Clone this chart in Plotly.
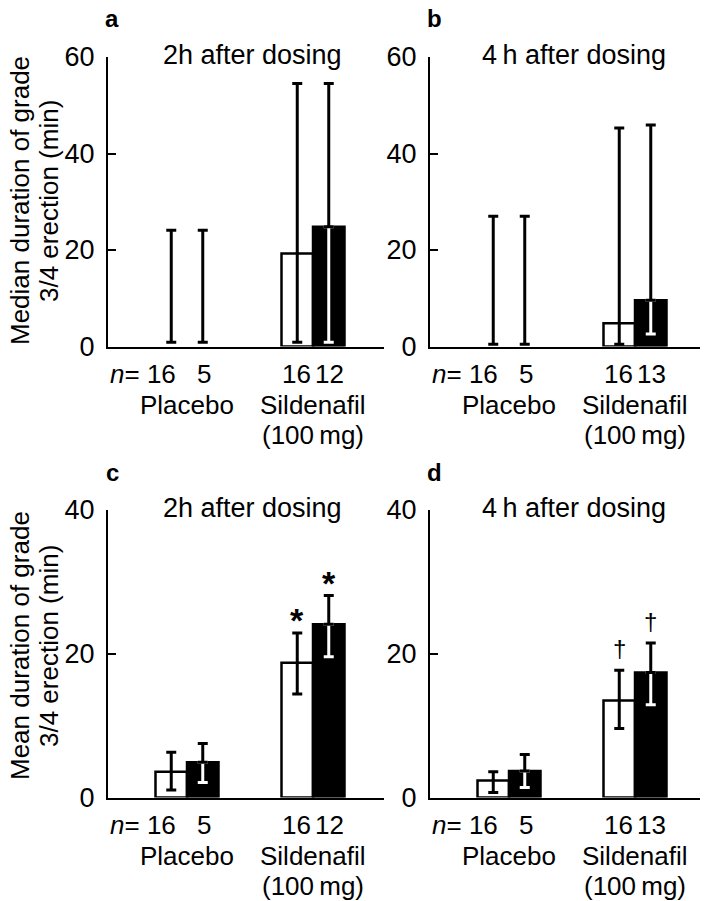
import plotly.graph_objects as go

W, H = 708, 901
OFF = 8                      # page body margin of the html page
WF, HF = W - OFF, H - OFF    # figure size so the picture fills the window
FONT = "Liberation Sans, Arial, Helvetica, sans-serif"

# ---------------- data ----------------
groups = [1, 2]                       # Placebo, Sildenafil
group_names = ["Placebo", "Sildenafil"]
group_sub = ["", "(100\u2009mg)"]
panel_letters = ["a", "b", "c", "d"]
panel_titles = ["2h after dosing", "4\u2009h after dosing", "2h after dosing", "4\u2009h after dosing"]

# open bars (first n) and filled bars (second n)
n_open = [[16, 16], [16, 16], [16, 16], [16, 16]]
n_filled = [[5, 12], [5, 13], [5, 12], [5, 13]]

# (a) median, 2 h
a_open, a_open_lo, a_open_hi = [0, 19.3], [0.9, 0.9], [24.1, 54.5]
a_fill, a_fill_lo, a_fill_hi = [0, 24.8], [0.9, 0.9], [24.1, 54.5]
# (b) median, 4 h
b_open, b_open_lo, b_open_hi = [0, 4.8], [0.45, 0.45], [27.0, 45.3]
b_fill, b_fill_lo, b_fill_hi = [0, 9.6], [0.45, 2.6], [27.0, 45.9]
# (c) mean, 2 h
c_open, c_open_lo, c_open_hi = [3.6, 18.75], [1.05, 14.4], [6.3, 22.9]
c_fill, c_fill_lo, c_fill_hi = [4.9, 24.1], [2.1, 19.6], [7.5, 28.1]
# (d) mean, 4 h
d_open, d_open_lo, d_open_hi = [2.35, 13.5], [0.7, 9.6], [3.6, 17.7]
d_fill, d_fill_lo, d_fill_hi = [3.7, 17.4], [1.4, 12.9], [6.0, 21.5]

# significance marks (open, filled) per group
c_marks = [["", ""], ["*", "*"]]
d_marks = [["", ""], ["\u2020", "\u2020"]]

y_max = [60, 60, 40, 40]
y_ticks = [[0, 20, 40, 60], [0, 20, 40, 60], [0, 20, 40], [0, 20, 40]]

panels = [
    (a_open, a_open_lo, a_open_hi, a_fill, a_fill_lo, a_fill_hi, None),
    (b_open, b_open_lo, b_open_hi, b_fill, b_fill_lo, b_fill_hi, None),
    (c_open, c_open_lo, c_open_hi, c_fill, c_fill_lo, c_fill_hi, c_marks),
    (d_open, d_open_lo, d_open_hi, d_fill, d_fill_lo, d_fill_hi, d_marks),
]

# ---------------- layout geometry (window pixels) ----------------
BAR_W = 0.25
x_dom_px = [(108, 384), (430, 708)]
y_dom_px = [(57, 346.5), (510, 797.5)]
PX_PER_UNIT = 126.0
x_left = 0.373
FS = 26


def px_x(p):
    return min(1.0, (p - OFF) / WF)


def px_y(p):
    return 1 - (p - OFF) / HF


fig = go.Figure()
layout = dict(
    template="none",
    width=WF, height=HF, margin=dict(l=0, r=0, t=0, b=0, autoexpand=False),
    plot_bgcolor="white", paper_bgcolor="white", showlegend=False,
    font=dict(family=FONT, size=FS, color="black"),
    barmode="overlay",
)
annotations = []

for k, (o, olo, ohi, f, flo, fhi, marks) in enumerate(panels):
    col, row = k % 2, k // 2
    ax = "" if k == 0 else str(k + 1)
    xr, yr = "x" + ax, "y" + ax
    xd = x_dom_px[col]
    yd = y_dom_px[row]
    x_right = x_left + (xd[1] - xd[0]) / PX_PER_UNIT
    layout["xaxis" + ax] = dict(
        domain=[px_x(xd[0]), px_x(xd[1])], anchor=yr, range=[x_left, x_right],
        showline=True, linewidth=2, linecolor="black", ticks="", showticklabels=False,
        showgrid=False, zeroline=False, fixedrange=True, automargin=False)
    layout["yaxis" + ax] = dict(
        domain=[px_y(yd[1]), px_y(yd[0])], anchor=xr, range=[0, y_max[k]],
        tickvals=y_ticks[k], showline=True, linewidth=2, linecolor="black",
        ticks="inside", ticklen=8, tickwidth=2, tickcolor="black",
        showgrid=False, zeroline=False, fixedrange=True, automargin=False,
        tickfont=dict(size=FS + 1, family=FONT), ticklabelstandoff=6)

    x_open = [g - BAR_W / 2 for g in groups]
    x_fill = [g + BAR_W / 2 for g in groups]

    fig.add_trace(go.Bar(x=groups, y=o, width=BAR_W, offset=-BAR_W, xaxis=xr, yaxis=yr,
                         marker=dict(color="white", line=dict(
                             color="black", width=[2.5 if v > 0 else 0 for v in o]))))
    fig.add_trace(go.Bar(x=groups, y=f, width=BAR_W, offset=0, xaxis=xr, yaxis=yr,
                         marker=dict(color="black", line=dict(
                             color="black", width=[2.5 if v > 0 else 0 for v in f]))))

    # error bars: white part inside filled bars, black elsewhere
    wx, wy, wup = [], [], []
    bx, by, bup = [], [], []
    for xs, vals, lo, hi, filled in ((x_open, o, olo, ohi, False), (x_fill, f, flo, fhi, True)):
        for i in range(len(groups)):
            if filled and vals[i] > lo[i]:
                wx.append(xs[i]); wy.append(lo[i]); wup.append(vals[i] - lo[i])
                bx.append(xs[i]); by.append(vals[i]); bup.append(hi[i] - vals[i])
            else:
                bx.append(xs[i]); by.append(lo[i]); bup.append(hi[i] - lo[i])
    for xs, ys, ups, colr in ((wx, wy, wup, "white"), (bx, by, bup, "black")):
        if not xs:
            continue
        fig.add_trace(go.Scatter(
            x=xs, y=ys, mode="markers", xaxis=xr, yaxis=yr,
            marker=dict(size=1, opacity=0), hoverinfo="skip",
            error_y=dict(type="data", symmetric=False, array=ups, arrayminus=[0] * len(ups),
                         color=colr, thickness=3, width=5)))

    # significance marks
    if marks:
        for i in range(len(groups)):
            for xs, hi, m in ((x_open, ohi, marks[i][0]), (x_fill, fhi, marks[i][1])):
                if not m:
                    continue
                star = m == "*"
                annotations.append(dict(
                    x=xs[i], y=hi[i], xref=xr, yref=yr, text=("<b>%s</b>" % m) if star else m,
                    showarrow=False, xanchor="center", yanchor="bottom",
                    yshift=-8 if star else 6,
                    font=dict(size=34 if star else 24, family=FONT)))

    # n labels
    for i in range(len(groups)):
        if i == 0:
            annotations.append(dict(x=x_open[i], y=0, xref=xr, yref=yr,
                                    text="<i>n</i>= %d" % n_open[k][i], showarrow=False,
                                    xanchor="right", yanchor="middle", xshift=7, yshift=-27))
        else:
            annotations.append(dict(x=x_open[i], y=0, xref=xr, yref=yr,
                                    text=str(n_open[k][i]), showarrow=False,
                                    xanchor="center", yanchor="middle", xshift=-1, yshift=-27))
        annotations.append(dict(x=x_fill[i], y=0, xref=xr, yref=yr,
                                text=str(n_filled[k][i]), showarrow=False,
                                xanchor="center", yanchor="middle", xshift=1, yshift=-27))
        annotations.append(dict(x=groups[i], y=0, xref=xr, yref=yr, text=group_names[i],
                                showarrow=False, xanchor="center", yanchor="middle", yshift=-58))
        if group_sub[i]:
            annotations.append(dict(x=groups[i], y=0, xref=xr, yref=yr, text=group_sub[i],
                                    showarrow=False, xanchor="center", yanchor="middle", yshift=-88))

    # panel letter & title
    annotations.append(dict(x=px_x(xd[0] + 4), y=px_y(yd[0] - 38), xref="paper", yref="paper",
                            text="<b>%s</b>" % panel_letters[k], showarrow=False,
                            xanchor="center", yanchor="middle", font=dict(size=24, family=FONT)))
    annotations.append(dict(x=px_x(xd[0] + 144), y=px_y(yd[0] - 2), xref="paper", yref="paper",
                            text=panel_titles[k], showarrow=False,
                            xanchor="center", yanchor="middle", font=dict(size=FS + 1, family=FONT)))

# y-axis titles
y_titles = [("Median duration of grade", "3/4 erection (min)"),
            ("Mean duration of grade", "3/4 erection (min)")]
for row, (l1, l2) in enumerate(y_titles):
    yc = [201, 646][row]
    for xp, txt in ((20, l1), (49, l2)):
        annotations.append(dict(x=px_x(xp), y=px_y(yc), xref="paper", yref="paper", text=txt,
                                textangle=-90, showarrow=False, xanchor="center", yanchor="middle",
                                font=dict(size=FS, family=FONT)))

layout["annotations"] = annotations
fig.update_layout(**layout)
fig.write_html("out.html")
